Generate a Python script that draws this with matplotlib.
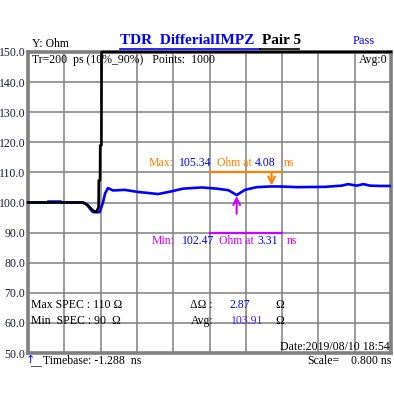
import matplotlib
matplotlib.use('Agg')
import matplotlib.pyplot as plt
from matplotlib.lines import Line2D
import numpy as np

plt.rcParams['font.family'] = ['Liberation Serif', 'DejaVu Serif']
plt.rcParams['font.size'] = 8.5

# 時間軸 (ns)
t_start = -1.288
t_scale = 0.800

# 差動インピーダンス (青)
blue_t = [-1.288, -0.86, -0.85, -0.56, -0.55, -0.08, 0.00, 0.10, 0.15, 0.29, 0.365, 0.41, 0.475,
          0.585, 0.843, 1.136, 1.401, 1.577, 1.842, 2.128, 2.540, 2.871, 3.126, 3.311, 3.494,
          3.752, 4.080, 4.310, 4.634, 5.258, 5.625, 5.764, 5.956, 6.102, 6.249, 6.470, 6.712]
blue_v = [100.0, 100.0, 100.3, 100.3, 100.0, 100.0, 99.5, 97.5, 96.8, 96.8, 100.0, 103.0, 104.8,
          104.0, 104.2, 103.5, 103.1, 102.8, 103.6, 104.6, 105.0, 104.6, 104.1, 102.47, 104.2,
          105.1, 105.34, 105.3, 105.1, 105.2, 105.6, 106.1, 105.6, 106.1, 105.6, 105.5, 105.5]

# ステップ波形 (黒)
black_t = [-1.288, -0.076, 0.034, 0.145, 0.218, 0.268, 0.272, 0.300, 0.304, 0.330, 0.334, 6.712]
black_v = [100.0, 100.0, 99.0, 97.3, 96.8, 98.5, 107.3, 107.3, 119.0, 119.0, 150.0, 150.0]

y_ticks = [150, 140, 130, 120, 110, 100, 90, 80, 70, 60, 50]

max_spec = 110
min_spec = 90
max_val, max_at = 105.34, 4.08
min_val, min_at = 102.47, 3.31
delta = 2.87
avg = 103.91

W, H = 394, 398


def px(x, y):
    return x / W, 1 - y / H


fig = plt.figure(figsize=(W / 100, H / 100), dpi=100)
ax = fig.add_axes([28 / W, 1 - 353 / H, 363 / W, 301 / H])

t_end = t_start + 10 * t_scale
ax.set_xlim(t_start, t_end)
ax.set_ylim(50, 150)
ax.set_xticks([t_start + k * t_scale for k in range(11)])
ax.set_xticklabels([])
ax.set_yticks(y_ticks)
ax.set_yticklabels([f'{v:.1f}' for v in y_ticks], color='#1a1a40')
ax.tick_params(length=0, pad=2)
ax.grid(True, color='#808080', lw=1.1)
for s in ax.spines.values():
    s.set_color('#808080')
    s.set_linewidth(2.6)

# 波形
ax.plot(blue_t, blue_v, color='#0000FF', lw=1.9, zorder=3)
ax.plot(black_t, black_v, color='black', lw=1.9, zorder=4, clip_on=False)

# 規格線と矢印
orange, magenta, blue = '#FF8000', '#CC00FF', '#0000FF'
win = (t_start + 5 * t_scale, t_start + 7 * t_scale)
ax.plot(win, [max_spec, max_spec], color=orange, lw=1.6, zorder=3)
ax.plot(win, [min_spec, min_spec], color=magenta, lw=1.6, zorder=3)
ax.annotate('', xy=(max_at, max_val + 0.3), xytext=(max_at, max_spec),
            arrowprops=dict(arrowstyle='->', color=orange, lw=1.5,
                            shrinkA=0, shrinkB=0, mutation_scale=12))
ax.annotate('', xy=(min_at, min_val - 0.3), xytext=(min_at, 96.3),
            arrowprops=dict(arrowstyle='->', color=magenta, lw=1.5,
                            shrinkA=0, shrinkB=0, mutation_scale=12))


def txt(x, y, s, color='black', **kw):
    fig.text(*px(x, y), s, color=color, va='center', **kw)


# タイトル
txt(120, 41, 'TDR  DifferialIMPZ', color=blue, fontsize=11, fontweight='bold')
txt(262, 41, 'Pair 5', fontsize=11, fontweight='bold')
fig.add_artist(Line2D([120 / W, 260 / W], [1 - 49 / H] * 2, color=blue, lw=1.2))
fig.add_artist(Line2D([260 / W, 299 / W], [1 - 49 / H] * 2, color='black', lw=1.2))
txt(353, 41, 'Pass', color=blue, fontsize=9)
txt(32, 44, 'Y: Ohm')

txt(32, 60, 'Tr=200  ps (10%_90%)   Points:  1000')
txt(388, 60, 'Avg:0', ha='right')

# 最大・最小
txt(149, 163, 'Max:', orange)
txt(179, 163, f'{max_val:.2f}', blue)
txt(217, 163, 'Ohm at', orange)
txt(255, 163, f'{max_at:.2f}', blue)
txt(284, 163, 'ns', orange)
txt(152, 241, 'Min:', magenta)
txt(182, 241, f'{min_val:.2f}', blue)
txt(219, 241, 'Ohm at', magenta)
txt(257, 241, f'{min_at:.2f}', blue)
txt(287, 241, 'ns', magenta)

# 規格表示
txt(31, 305, f'Max SPEC : {max_spec} Ω')
txt(31, 321, f'Min  SPEC : {min_spec}  Ω')
txt(190, 305, 'ΔΩ :')
txt(230, 305, f'{delta:.2f}', blue)
txt(275, 305, 'Ω')
txt(191, 321, 'Avg:')
txt(231, 321, f'{avg:.2f}', '#4a20f0')
txt(275, 321, 'Ω')
txt(390, 347, 'Date:2019/08/10 18:54', ha='right')

fig.text(26 / W, 1 - 360 / H, '↑', color=blue, fontsize=8, va='center',
         family='DejaVu Sans', zorder=10)
txt(30, 362, '__')
txt(43, 361, f'Timebase: {t_start:.3f}  ns')
txt(307, 361, 'Scale=')
txt(391, 361, f'{t_scale:.3f} ns', ha='right')

fig.savefig('out.png', dpi=100)
